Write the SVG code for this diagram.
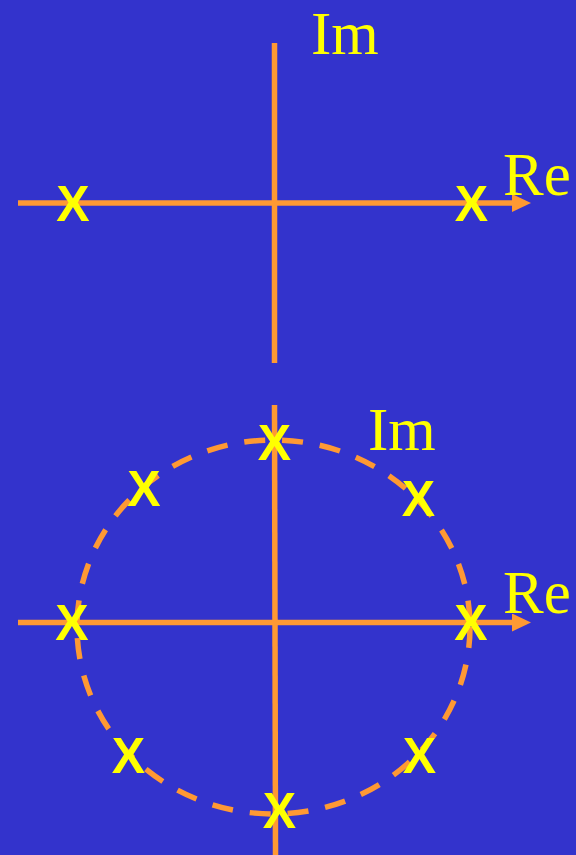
<svg xmlns="http://www.w3.org/2000/svg" width="576" height="855" viewBox="0 0 576 855">
<style>
.ax{stroke:#FF9933;stroke-width:5.5;fill:none}
.circ{stroke:#FF9933;stroke-width:5.5;fill:none;stroke-dasharray:21 17}
.lbl{font-family:"Liberation Serif","Times New Roman",serif;font-size:61px;fill:#FFFF00}
.pole{font-family:"Liberation Sans",Arial,sans-serif;font-size:50px;font-weight:bold;fill:#FFFF00;text-anchor:middle}
</style>
<defs>
<marker id="arr" markerWidth="19" markerHeight="18" refX="0" refY="9" orient="auto" markerUnits="userSpaceOnUse">
<path d="M0,0 L19,9 L0,18 Z" fill="#FF9933"/>
</marker>
</defs>
<rect width="576" height="855" fill="#3333CC"/>
<g id="plot-top">
<g id="axes-top">
<line class="ax" x1="274.5" y1="43" x2="274.5" y2="363"/>
<line class="ax" x1="18" y1="203" x2="512" y2="203" marker-end="url(#arr)"/>
</g>
<text class="lbl" x="311" y="54" font-size="59">Im</text>
<text class="lbl" x="503" y="195">Re</text>
<g id="poles-top">
<text class="pole" x="73" y="221">X</text>
<text class="pole" x="471.5" y="221">X</text>
</g>
</g>
<g id="plot-bottom">
<g id="axes-bottom">
<line class="ax" x1="274.5" y1="405" x2="275.5" y2="855"/>
<line class="ax" x1="18" y1="622.5" x2="512" y2="622.5" marker-end="url(#arr)"/>
<ellipse class="circ" cx="273.5" cy="627" rx="196.5" ry="187"/>
</g>
<text class="lbl" x="368" y="450">Im</text>
<text class="lbl" x="503" y="613">Re</text>
<g id="poles-bottom">
<text class="pole" x="274.5" y="460">X</text>
<text class="pole" x="144" y="506">X</text>
<text class="pole" x="418.5" y="516">X</text>
<text class="pole" x="72" y="640">X</text>
<text class="pole" x="471" y="640">X</text>
<text class="pole" x="128.5" y="773">X</text>
<text class="pole" x="419.5" y="773">X</text>
<text class="pole" x="279.5" y="828">X</text>
</g>
</g>
</svg>
